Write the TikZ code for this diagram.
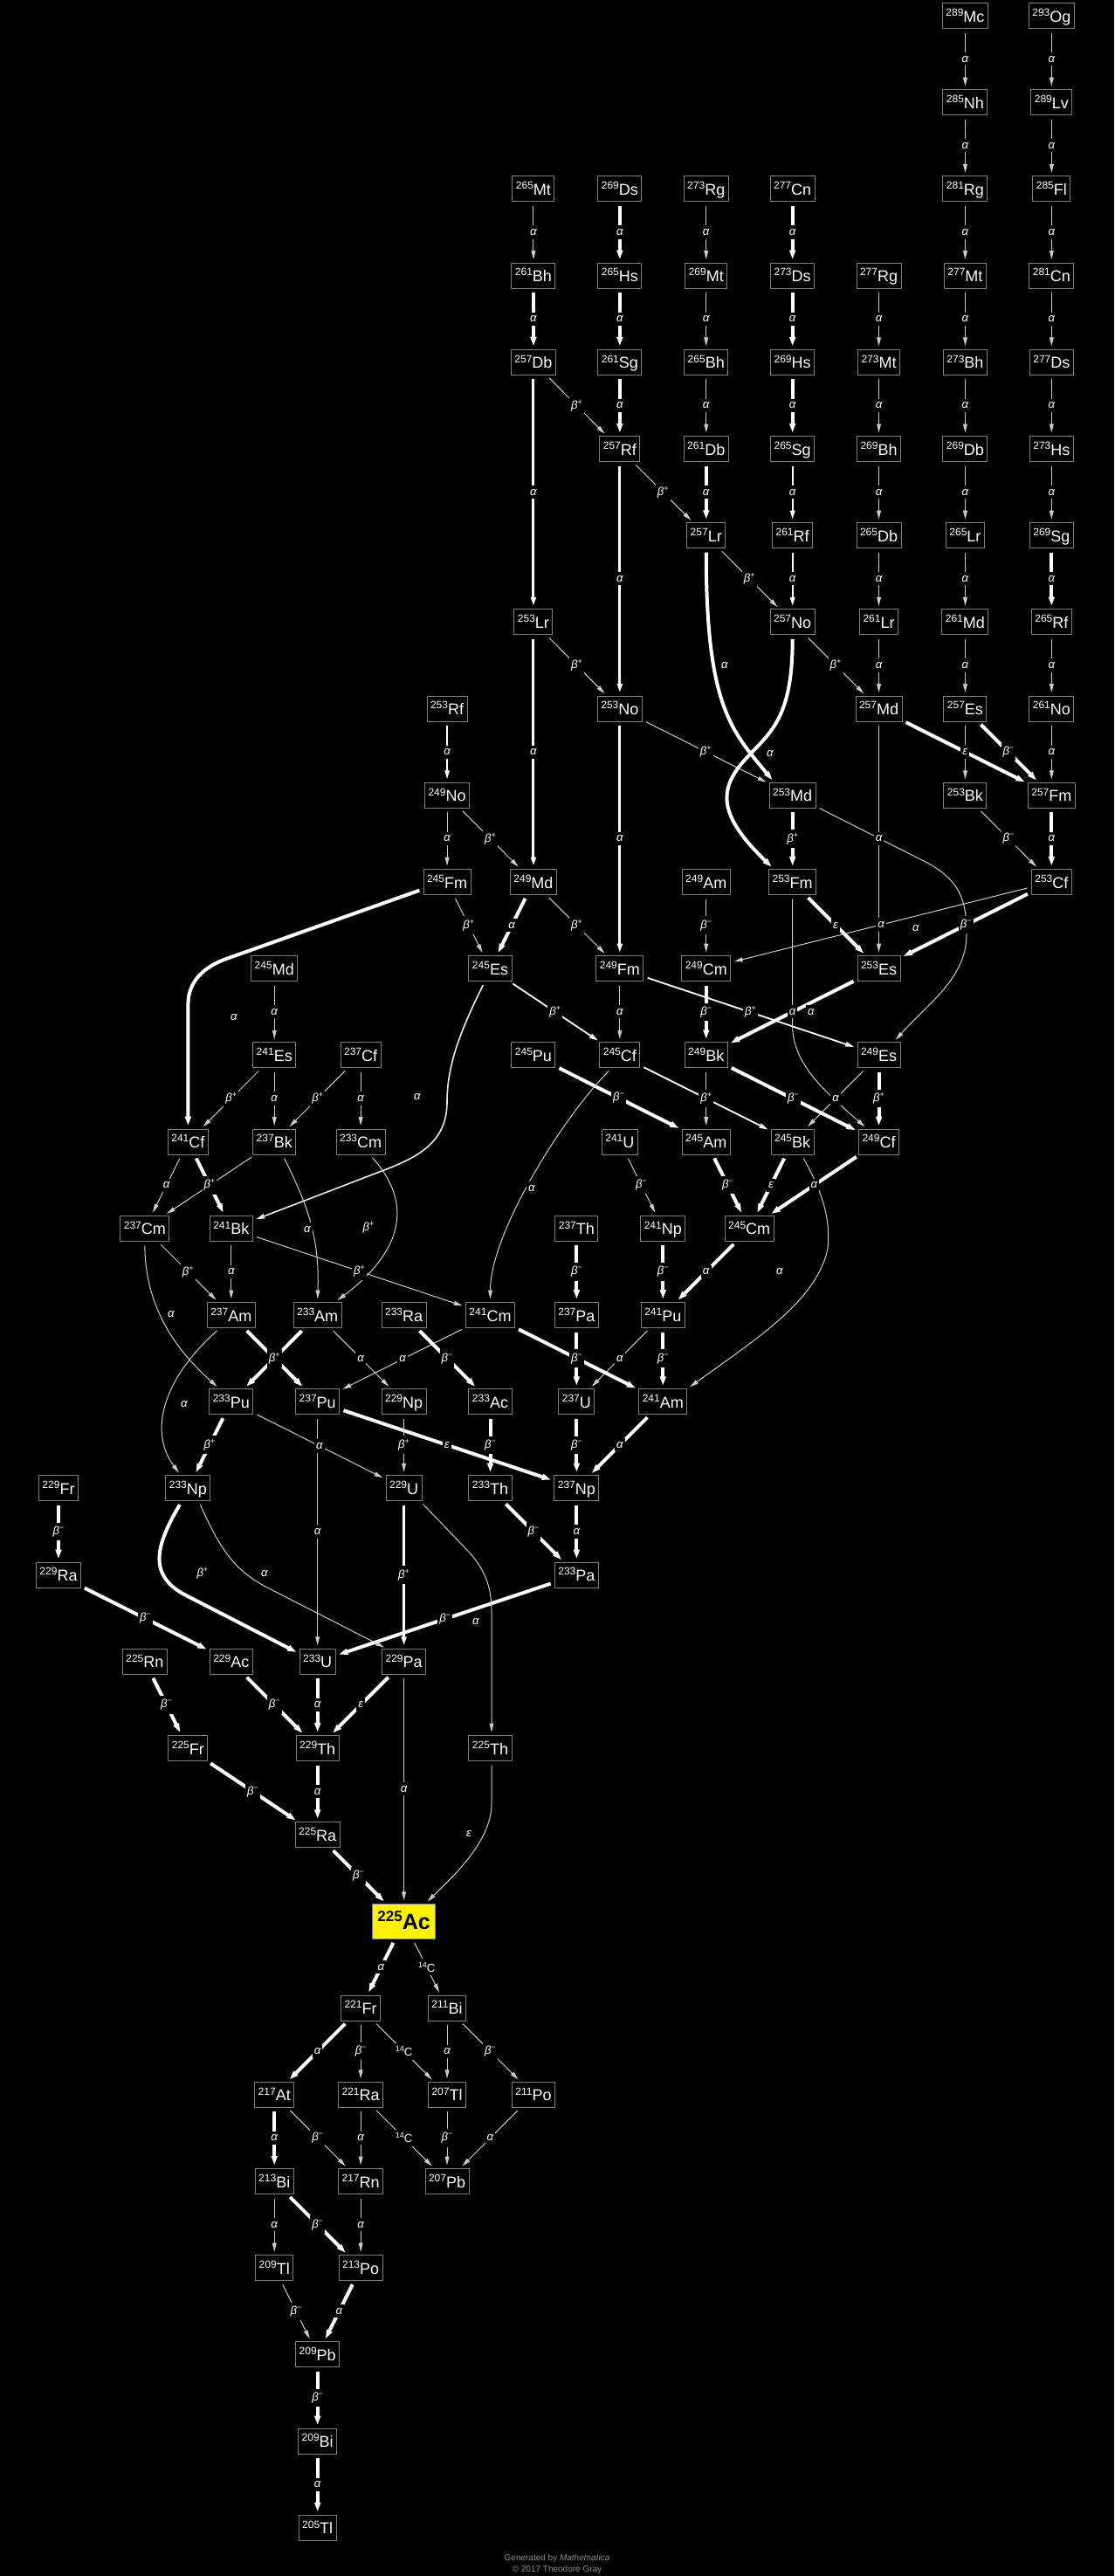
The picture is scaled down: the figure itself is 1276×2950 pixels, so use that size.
\documentclass[tikz,border=0pt]{standalone}
\usepackage{fontspec}
\setmainfont{Liberation Sans}
\usetikzlibrary{arrows.meta,calc}
\newcommand\iso[2]{\raisebox{3.4pt}{\fontsize{6}{6}\selectfont #1}\fontsize{9}{9}\selectfont #2}
\newcommand\Lal{\itshape α}
\newcommand\Lbp{{\itshape β}\raisebox{2.5pt}{\fontsize{4.5}{4.5}\selectfont +}}
\newcommand\Lbm{{\itshape β}\raisebox{2.5pt}{\fontsize{4.5}{4.5}\selectfont −}}
\newcommand\Lep{\itshape ε}
\newcommand\Lcc{\raisebox{2.5pt}{\fontsize{4.5}{4.5}\selectfont 14}C}
\newcommand\Nd[5]{\node[nuc] (#1) at ({67+49.45*#2},{18+99.2*#3}) {\iso{#4}{#5}};}
\tikzset{
 nuc/.style={draw=gray, line width=0.5pt, fill=black, text=white, inner xsep=2pt, inner ysep=0pt,
   minimum height=14.5pt, text height=7pt, text depth=0pt, outer sep=0pt},
 base/.style={shorten >=2pt, shorten <=2.5pt},
 thn/.style={base, draw=white!80!black, line width=0.5pt, -{Triangle[length=5pt,width=2.4pt]}},
 thm/.style={base, draw=white!92!black, line width=0.8pt, -{Triangle[length=5pt,width=2.6pt]}},
 med/.style={base, draw=white, line width=0.9pt, -{Triangle[length=5pt,width=2.7pt]}},
 lng/.style={base, draw=white, line width=1.5pt, -{Triangle[length=5pt,width=2.9pt]}},
 thk/.style={base, draw=white, line width=2pt, -{Triangle[length=5.2pt,width=3.3pt]}},
 lab/.style={fill=black, text=white, inner xsep=1pt, inner ysep=2pt, font=\fontsize{6.6}{6.6}\selectfont},
}
\newcommand\edgelist{%
\Ed{thn}{Og293}{Lv289}{\Lal}
\Ed{thn}{Lv289}{Fl285}{\Lal}
\Ed{thn}{Fl285}{Cn281}{\Lal}
\Ed{thn}{Cn281}{Ds277}{\Lal}
\Ed{thn}{Ds277}{Hs273}{\Lal}
\Ed{thn}{Hs273}{Sg269}{\Lal}
\Ed{thk}{Sg269}{Rf265}{\Lal}
\Ed{thn}{Rf265}{No261}{\Lal}
\Ed{thn}{No261}{Fm257}{\Lal}
\Ed{thk}{Fm257}{Cf253}{\Lal}
\Ed{thn}{Mc289}{Nh285}{\Lal}
\Ed{thn}{Nh285}{Rg281}{\Lal}
\Ed{thn}{Rg281}{Mt277}{\Lal}
\Ed{thn}{Mt277}{Bh273}{\Lal}
\Ed{thn}{Bh273}{Db269}{\Lal}
\Ed{thn}{Db269}{Lr265}{\Lal}
\Ed{thn}{Lr265}{Md261}{\Lal}
\Ed{thn}{Md261}{Es257}{\Lal}
\Ed{thk}{Es257}{Fm257}{\Lbm}
\Ed{thk}{Md257}{Fm257}{\Lep}
\Ed{thn}{Bk253}{Cf253}{\Lbm}
\Ed{thn}{Rg277}{Mt273}{\Lal}
\Ed{thn}{Mt273}{Bh269}{\Lal}
\Ed{thn}{Bh269}{Db265}{\Lal}
\Ed{thn}{Db265}{Lr261}{\Lal}
\Ed{thn}{Lr261}{Md257}{\Lal}
\Ed{thn}{Md257}{Es253}{\Lal}
\Ed{thk}{Cn277}{Ds273}{\Lal}
\Ed{thk}{Ds273}{Hs269}{\Lal}
\Ed{thk}{Hs269}{Sg265}{\Lal}
\Ed{med}{Sg265}{Rf261}{\Lal}
\Ed{med}{Rf261}{No257}{\Lal}
\Ed{thn}{No257}{Md257}{\Lbp}
\Ed{thn}{Rg273}{Mt269}{\Lal}
\Ed{thn}{Mt269}{Bh265}{\Lal}
\Ed{thn}{Bh265}{Db261}{\Lal}
\Ed{thk}{Db261}{Lr257}{\Lal}
\Ed{thn}{Lr257}{No257}{\Lbp}
\Ed{thk}{Ds269}{Hs265}{\Lal}
\Ed{thk}{Hs265}{Sg261}{\Lal}
\Ed{thk}{Sg261}{Rf257}{\Lal}
\Ed{thn}{Rf257}{Lr257}{\Lbp}
\Ed{lng}{Rf257}{No253}{\Lal}
\Ed{thn}{Mt265}{Bh261}{\Lal}
\Ed{thk}{Bh261}{Db257}{\Lal}
\Ed{thn}{Db257}{Rf257}{\Lbp}
\Ed{lng}{Db257}{Lr253}{\Lal}
\Ed{thn}{Lr253}{No253}{\Lbp}
\Ed{lng}{Lr253}{Md249}{\Lal}
\Ed{thn}{No253}{Md253}{\Lbp}
\Ed{lng}{No253}{Fm249}{\Lal}
\Ed{med}{Rf253}{No249}{\Lal}
\Ed{thn}{No249}{Fm245}{\Lal}
\Ed{thn}{No249}{Md249}{\Lbp}
\Ed{thk}{Md253}{Fm253}{\Lbp}
\Ed{thk}{Fm253}{Es253}{\Lep}
\Ed{thk}{Cf253}{Es253}{\Lbm}
\Ed{thn}{Cf253}{Cm249}{\Lal}
\Ed{thn}{Am249}{Cm249}{\Lbm}
\Ed{thn}{Fm245}{Es245}{\Lbp}
\Ed{thk}{Md249}{Es245}{\Lal}
\Ed{thn}{Md249}{Fm249}{\Lbp}
\Ed{med}{Es245}{Cf245}{\Lbp}
\Ed{thn}{Fm249}{Cf245}{\Lal}
\Ed{med}{Fm249}{Es249}{\Lbp}
\Ed{thk}{Cm249}{Bk249}{\Lbm}
\Ed{thk}{Es253}{Bk249}{\Lal}
\Ed{thk}{Es249}{Cf249}{\Lbp}
\Ed{thn}{Es249}{Bk245}{\Lal}
\Ed{thk}{Bk249}{Cf249}{\Lbm}
\Ed{thn}{Bk249}{Am245}{\Lbp}
\Ed{thk}{Pu245}{Am245}{\Lbm}
\Ed{thn}{U241}{Np241}{\Lbm}
\Ed{thk}{Am245}{Cm245}{\Lbm}
\Ed{thk}{Cf249}{Cm245}{\Lal}
\Ed{thk}{Bk245}{Cm245}{\Lep}
\Ed{thk}{Th237}{Pa237}{\Lbm}
\Ed{thk}{Np241}{Pu241}{\Lbm}
\Ed{thk}{Cm245}{Pu241}{\Lal}
\Ed{thk}{Pa237}{U237}{\Lbm}
\Ed{thn}{Pu241}{U237}{\Lal}
\Ed{thk}{Pu241}{Am241}{\Lbm}
\Ed{thn}{Cm241}{Pu237}{\Lal}
\Ed{thk}{Ra233}{Ac233}{\Lbm}
\Ed{thn}{Bk241}{Cm241}{\Lbp}
\Ed{thk}{Cf241}{Bk241}{\Lbp}
\Ed{thn}{Cf241}{Cm237}{\Lal}
\Ed{thn}{Es241}{Cf241}{\Lbp}
\Ed{thn}{Es241}{Bk237}{\Lal}
\Ed{thn}{Cf237}{Bk237}{\Lbp}
\Ed{thn}{Cf237}{Cm233}{\Lal}
\Ed{thn}{Md245}{Es241}{\Lal}
\Ed{thn}{Cm237}{Am237}{\Lbp}
\Ed{thn}{Bk241}{Am237}{\Lal}
\Ed{thk}{Am237}{Pu237}{\Lbp}
\Ed{thn}{Am233}{Np229}{\Lal}
\Ed{thk}{Pu233}{Np233}{\Lbp}
\Ed{thn}{Pu233}{U229}{\Lal}
\Ed{thn}{Pu237}{U233}{\Lal}
\Ed{thk}{Pu237}{Np237}{\Lep}
\Ed{thn}{Np229}{U229}{\Lbp}
\Ed{thk}{Ac233}{Th233}{\Lbm}
\Ed{thk}{U237}{Np237}{\Lbm}
\Ed{thk}{Am241}{Np237}{\Lal}
\Ed{thk}{Fr229}{Ra229}{\Lbm}
\Ed{lng}{U229}{Pa229}{\Lbp}
\Ed{thk}{Pa233}{U233}{\Lbm}
\Ed{thk}{Th233}{Pa233}{\Lbm}
\Ed{thk}{Np237}{Pa233}{\Lal}
\Ed{thk}{Ra229}{Ac229}{\Lbm}
\Ed{thk}{Rn225}{Fr225}{\Lbm}
\Ed{thk}{Ac229}{Th229}{\Lbm}
\Ed{thk}{U233}{Th229}{\Lal}
\Ed{thk}{Pa229}{Th229}{\Lep}
\Ed{thn}{Pa229}{Ac225}{\Lal}
\Ed{thk}{Fr225}{Ra225}{\Lbm}
\Ed{thk}{Th229}{Ra225}{\Lal}
\Ed{thk}{Ra225}{Ac225}{\Lbm}
\Ed{thk}{Ac225}{Fr221}{\Lal}
\Ed{thn}{Ac225}{Bi211}{\Lcc}
\Ed{thk}{Fr221}{At217}{\Lal}
\Ed{thn}{Fr221}{Ra221}{\Lbm}
\Ed{thn}{Fr221}{Tl207}{\Lcc}
\Ed{thn}{Bi211}{Tl207}{\Lal}
\Ed{thn}{Bi211}{Po211}{\Lbm}
\Ed{thk}{At217}{Bi213}{\Lal}
\Ed{thn}{At217}{Rn217}{\Lbm}
\Ed{thn}{Ra221}{Rn217}{\Lal}
\Ed{thn}{Ra221}{Pb207}{\Lcc}
\Ed{thn}{Tl207}{Pb207}{\Lbm}
\Ed{thn}{Po211}{Pb207}{\Lal}
\Ed{thn}{Bi213}{Tl209}{\Lal}
\Ed{thk}{Bi213}{Po213}{\Lbm}
\Ed{thn}{Rn217}{Po213}{\Lal}
\Ed{thn}{Tl209}{Pb209}{\Lbm}
\Ed{thk}{Po213}{Pb209}{\Lal}
\Ed{thk}{Pb209}{Bi209}{\Lbm}
\Ed{thk}{Bi209}{Tl205}{\Lal}
}
\begin{document}
\begin{tikzpicture}[x=0.5pt,y=-0.5pt]
\useasboundingbox (0,0) rectangle (1276,2950);
\fill[black] (0,0) rectangle (1276,2950);
% nuclides
\Nd{Mc289}{21}{0}{289}{Mc}
\Nd{Og293}{23}{0}{293}{Og}
\Nd{Nh285}{21}{1}{285}{Nh}
\Nd{Lv289}{23}{1}{289}{Lv}
\Nd{Mt265}{11}{2}{265}{Mt}
\Nd{Ds269}{13}{2}{269}{Ds}
\Nd{Rg273}{15}{2}{273}{Rg}
\Nd{Cn277}{17}{2}{277}{Cn}
\Nd{Rg281}{21}{2}{281}{Rg}
\Nd{Fl285}{23}{2}{285}{Fl}
\Nd{Bh261}{11}{3}{261}{Bh}
\Nd{Hs265}{13}{3}{265}{Hs}
\Nd{Mt269}{15}{3}{269}{Mt}
\Nd{Ds273}{17}{3}{273}{Ds}
\Nd{Rg277}{19}{3}{277}{Rg}
\Nd{Mt277}{21}{3}{277}{Mt}
\Nd{Cn281}{23}{3}{281}{Cn}
\Nd{Db257}{11}{4}{257}{Db}
\Nd{Sg261}{13}{4}{261}{Sg}
\Nd{Bh265}{15}{4}{265}{Bh}
\Nd{Hs269}{17}{4}{269}{Hs}
\Nd{Mt273}{19}{4}{273}{Mt}
\Nd{Bh273}{21}{4}{273}{Bh}
\Nd{Ds277}{23}{4}{277}{Ds}
\Nd{Rf257}{13}{5}{257}{Rf}
\Nd{Db261}{15}{5}{261}{Db}
\Nd{Sg265}{17}{5}{265}{Sg}
\Nd{Bh269}{19}{5}{269}{Bh}
\Nd{Db269}{21}{5}{269}{Db}
\Nd{Hs273}{23}{5}{273}{Hs}
\Nd{Lr257}{15}{6}{257}{Lr}
\Nd{Rf261}{17}{6}{261}{Rf}
\Nd{Db265}{19}{6}{265}{Db}
\Nd{Lr265}{21}{6}{265}{Lr}
\Nd{Sg269}{23}{6}{269}{Sg}
\Nd{Lr253}{11}{7}{253}{Lr}
\Nd{No257}{17}{7}{257}{No}
\Nd{Lr261}{19}{7}{261}{Lr}
\Nd{Md261}{21}{7}{261}{Md}
\Nd{Rf265}{23}{7}{265}{Rf}
\Nd{Rf253}{9}{8}{253}{Rf}
\Nd{No253}{13}{8}{253}{No}
\Nd{Md257}{19}{8}{257}{Md}
\Nd{Es257}{21}{8}{257}{Es}
\Nd{No261}{23}{8}{261}{No}
\Nd{No249}{9}{9}{249}{No}
\Nd{Md253}{17}{9}{253}{Md}
\Nd{Bk253}{21}{9}{253}{Bk}
\Nd{Fm257}{23}{9}{257}{Fm}
\Nd{Fm245}{9}{10}{245}{Fm}
\Nd{Md249}{11}{10}{249}{Md}
\Nd{Am249}{15}{10}{249}{Am}
\Nd{Fm253}{17}{10}{253}{Fm}
\Nd{Cf253}{23}{10}{253}{Cf}
\Nd{Md245}{5}{11}{245}{Md}
\Nd{Es245}{10}{11}{245}{Es}
\Nd{Fm249}{13}{11}{249}{Fm}
\Nd{Cm249}{15}{11}{249}{Cm}
\Nd{Es253}{19}{11}{253}{Es}
\Nd{Es241}{5}{12}{241}{Es}
\Nd{Cf237}{7}{12}{237}{Cf}
\Nd{Pu245}{11}{12}{245}{Pu}
\Nd{Cf245}{13}{12}{245}{Cf}
\Nd{Bk249}{15}{12}{249}{Bk}
\Nd{Es249}{19}{12}{249}{Es}
\Nd{Cf241}{3}{13}{241}{Cf}
\Nd{Bk237}{5}{13}{237}{Bk}
\Nd{Cm233}{7}{13}{233}{Cm}
\Nd{U241}{13}{13}{241}{U}
\Nd{Am245}{15}{13}{245}{Am}
\Nd{Bk245}{17}{13}{245}{Bk}
\Nd{Cf249}{19}{13}{249}{Cf}
\Nd{Cm237}{2}{14}{237}{Cm}
\Nd{Bk241}{4}{14}{241}{Bk}
\Nd{Th237}{12}{14}{237}{Th}
\Nd{Np241}{14}{14}{241}{Np}
\Nd{Cm245}{16}{14}{245}{Cm}
\Nd{Am237}{4}{15}{237}{Am}
\Nd{Am233}{6}{15}{233}{Am}
\Nd{Ra233}{8}{15}{233}{Ra}
\Nd{Cm241}{10}{15}{241}{Cm}
\Nd{Pa237}{12}{15}{237}{Pa}
\Nd{Pu241}{14}{15}{241}{Pu}
\Nd{Pu233}{4}{16}{233}{Pu}
\Nd{Pu237}{6}{16}{237}{Pu}
\Nd{Np229}{8}{16}{229}{Np}
\Nd{Ac233}{10}{16}{233}{Ac}
\Nd{U237}{12}{16}{237}{U}
\Nd{Am241}{14}{16}{241}{Am}
\Nd{Fr229}{0}{17}{229}{Fr}
\Nd{Np233}{3}{17}{233}{Np}
\Nd{U229}{8}{17}{229}{U}
\Nd{Th233}{10}{17}{233}{Th}
\Nd{Np237}{12}{17}{237}{Np}
\Nd{Ra229}{0}{18}{229}{Ra}
\Nd{Pa233}{12}{18}{233}{Pa}
\Nd{Rn225}{2}{19}{225}{Rn}
\Nd{Ac229}{4}{19}{229}{Ac}
\Nd{U233}{6}{19}{233}{U}
\Nd{Pa229}{8}{19}{229}{Pa}
\Nd{Fr225}{3}{20}{225}{Fr}
\Nd{Th229}{6}{20}{229}{Th}
\Nd{Th225}{10}{20}{225}{Th}
\Nd{Ra225}{6}{21}{225}{Ra}
\node[draw=gray, line width=0.5pt, fill=yellow, text=black, inner xsep=3pt, inner ysep=0pt,
  minimum height=20pt, text height=9pt, text depth=0pt, outer sep=0pt] (Ac225) at ({67+49.45*8},{18+99.2*22})
  {\raisebox{4.6pt}{\fontsize{8.5}{8.5}\selectfont\bfseries 225}\fontsize{12.5}{12.5}\selectfont\bfseries Ac};
\Nd{Fr221}{7}{23}{221}{Fr}
\Nd{Bi211}{9}{23}{211}{Bi}
\Nd{At217}{5}{24}{217}{At}
\Nd{Ra221}{7}{24}{221}{Ra}
\Nd{Tl207}{9}{24}{207}{Tl}
\Nd{Po211}{11}{24}{211}{Po}
\Nd{Bi213}{5}{25}{213}{Bi}
\Nd{Rn217}{7}{25}{217}{Rn}
\Nd{Pb207}{9}{25}{207}{Pb}
\Nd{Tl209}{5}{26}{209}{Tl}
\Nd{Po213}{7}{26}{213}{Po}
\Nd{Pb209}{6}{27}{209}{Pb}
\Nd{Bi209}{6}{28}{209}{Bi}
\Nd{Tl205}{6}{29}{205}{Tl}
% straight edges (lines)
\def\Ed#1#2#3#4{\draw[#1] (#2) -- (#3);}
\edgelist
\draw[thn] (Es257) -- (Bk253);
\draw[med] (Cf245) -- (Bk245);
\draw[thn] (Bk237) -- (Cm237);
\draw[thk] (Am233) -- (Pu233);
\draw[thk] (Cm241) -- (Am241);
% curved edges
\draw[thk] (Lr257.south) .. controls +(0,180) and +(-50,-60) .. ($(Md253.north west)+(6,0)$);
\draw[thk] (No257.south) .. controls +(0,95) and +(28,-30) .. (855,868) .. controls +(-35,37) and +(-62,-60) .. ($(Fm253.north west)+(6,0)$);
\draw[thk] ($(Fm245.west)+(0,8)$) -- (262,1097) .. controls +(-30,10) and +(0,-25) .. (215.4,1150) -- (Cf241.north);
\draw[thm] ($(Es245.south)+(-6,0)$) .. controls +(-30,60) and +(0,-40) .. (512,1262) .. controls +(0,45) and +(35,-14) .. (445,1338) -- ($(Bk241.east)+(0,-9)$);
\draw[thn] ($(Cf245.south west)+(14,0)$) .. controls +(-55,55) and +(0,-80) .. (Cm241.north);
\draw[thn] ($(Bk245.south)+(10,0)$) .. controls +(27,47) and +(3,-30) .. (948,1430) .. controls +(-13,60) and +(80,-58) .. (Am241.north east);
\draw[thn] ($(Md253.south east)+(0,-2)$) -- (1050,982) .. controls +(50,23) and +(0,-40) .. (1107,1070) .. controls +(0,50) and +(40,-45) .. ($(Es249.north east)+(-8,0)$);
\draw[thn] (Fm253.south) -- (907.7,1175) .. controls +(0,45) and +(-45,-40) .. ($(Cf249.north west)+(10,0)$);
\draw[thn] (Cm237.south) .. controls +(0,80) and +(-45,-40) .. ($(Pu233.north west)+(12,0)$);
\draw[thn] ($(Am237.south west)+(15,0)$) .. controls +(-67,60) and +(-37,-50) .. ($(Np233.north)+(-8,0)$);
\draw[thn] ($(Cm233.south)+(10,0)$) .. controls +(57,63) and +(68,-51) .. ($(Am233.north east)+(-8,0)$);
\draw[thn] ($(Bk237.south)+(9,0)$) .. controls +(32,63) and +(2,-70) .. (Am233.north);
\draw[thk] ($(Np233.south)+(-7,0)$) .. controls +(-30,51) and +(-47,-23) .. (215,1828) -- ($(U233.west)+(0,-9)$);
\draw[thn] ($(Np233.south)+(12,0)$) .. controls +(23,50) and +(-45,-22) .. (310,1820) -- ($(Pa229.north west)+(6,0)$);
\draw[thn] ($(U229.south east)+(-2,0)$) -- (532,1772) .. controls +(22,22) and +(0,-30) .. (563,1845) -- ($(Th225.north)+(1.5,0)$);
\draw[thn] ($(Th225.south)+(1.5,0)$) -- (563,2065) .. controls +(0,45) and +(30,-30) .. ($(Ac225.north east)+(-12,0)$);
% labels on straight edges
\def\Ed#1#2#3#4{\path (#2) -- node[lab]{#4} (#3);}
\edgelist
% labels on curved edges
\node[lab] (c1) at (830,762) {\Lal};
\node[lab] (c2) at (882,863) {\Lal};
\node[lab] (c3) at (268,1165) {\Lal};
\node[lab] (c4) at (478,1256) {\Lal};
\node[lab] (c5) at (609,1361) {\Lal};
\node[lab] (c6) at (893,1456) {\Lal};
\node[lab] (c7) at (1049,1063) {\Lal};
\node[lab] (c8) at (929,1159) {\Lal};
\node[lab] (c9) at (196,1505) {\Lal};
\node[lab] (c10) at (211,1608) {\Lal};
\node[lab] (c11) at (422,1406) {\Lbp};
\node[lab] (c12) at (352,1408) {\Lal};
\node[lab] (c13) at (232,1802) {\Lbp};
\node[lab] (c14) at (303,1802) {\Lal};
\node[lab] (c15) at (545,1857) {\Lal};
\node[lab] (c16) at (537,2100) {\Lep};
% footer
\node[text=white!55!black, font=\fontsize{5}{6.5}\selectfont, align=center] (foot) at (638,2936)
  {Generated by \textit{Mathematica}\\© 2017 Theodore Gray};
\end{tikzpicture}
\end{document}
